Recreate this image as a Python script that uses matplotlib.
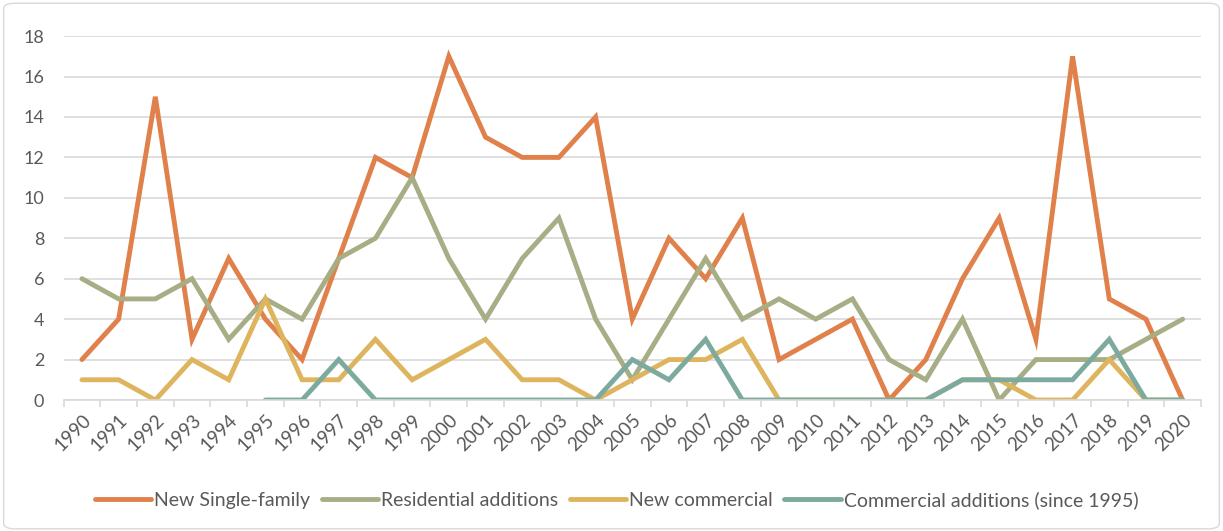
import numpy as np
import matplotlib.pyplot as plt
from matplotlib.patches import FancyBboxPatch

# Data
years = list(range(1990, 2021))
new_single_family = [2, 4, 15, 3, 7, 4, 2, 7, 12, 11, 17, 13, 12, 12, 14, 4, 8, 6, 9, 2,
                     3, 4, 0, 2, 6, 9, 3, 17, 5, 4, 0]
residential_additions = [6, 5, 5, 6, 3, 5, 4, 7, 8, 11, 7, 4, 7, 9, 4, 1, 4, 7, 4, 5,
                         4, 5, 2, 1, 4, 0, 2, 2, 2, 3, 4]
new_commercial = [1, 1, 0, 2, 1, 5, 1, 1, 3, 1, 2, 3, 1, 1, 0, 1, 2, 2, 3, 0,
                  0, 0, 0, 0, 1, 1, 0, 0, 2, 0, 0]
# starts in 1995
commercial_additions = [0, 0, 2, 0, 0, 0, 0, 0, 0, 0, 2, 1, 3, 0, 0,
                        0, 0, 0, 0, 1, 1, 1, 1, 3, 0, 0]

labels = ['New Single-family', 'Residential additions', 'New commercial',
          'Commercial additions (since 1995)']
colors = ['#E0804A', '#A7AE86', '#DEB55E', '#7DAA9E']

plt.rcParams['font.family'] = ['Lato', 'DejaVu Sans']

fig = plt.figure(figsize=(12.23, 5.31), dpi=100)
ax = fig.add_axes([0.052, 0.2467, 0.930, 0.6853])

x = np.arange(len(years))
x_comm = x[years.index(1995):]

series = [(x, new_single_family), (x, residential_additions),
          (x, new_commercial), (x_comm, commercial_additions)]
for (xs, ys), lab, c in zip(series, labels, colors):
    ax.plot(xs, ys, color=c, lw=3.5, label=lab, solid_joinstyle='miter',
            solid_capstyle='round')

ax.set_xlim(-0.5, len(years) - 0.5)
ax.set_ylim(0, 18)
ax.set_yticks(range(0, 19, 2))
ax.yaxis.grid(True, color='#D9D9D9', lw=1.2)
ax.set_axisbelow(True)

ax.set_xticks(x)
ax.set_xticklabels([str(y) for y in years], rotation=45, ha='right',
                   rotation_mode='anchor', fontsize=13.5, color='#595959')
ax.set_xticks(np.arange(-0.5, len(years)), minor=True)
ax.tick_params(axis='x', which='major', length=0, pad=8)
ax.tick_params(axis='x', which='minor', length=5, color='#D9D9D9', width=1.2)
ax.tick_params(axis='y', length=0, labelsize=13, labelcolor='#595959', pad=14)

for side in ['top', 'right', 'left']:
    ax.spines[side].set_visible(False)
ax.spines['bottom'].set_color('#D9D9D9')
ax.spines['bottom'].set_linewidth(1.2)

fig.legend(loc='center', bbox_to_anchor=(0.504, 0.058), ncol=4, frameon=False,
           fontsize=14, handlelength=2.9, handletextpad=0.15, columnspacing=0.6,
           labelcolor='#595959')

# chart area border
border = FancyBboxPatch((0.003, 0.004), 0.994, 0.99, transform=fig.transFigure,
                        boxstyle='round,pad=0,rounding_size=0.01', fill=False,
                        edgecolor='#D9D9D9', lw=1)
fig.patches.append(border)

fig.savefig('out.png', dpi=100)
